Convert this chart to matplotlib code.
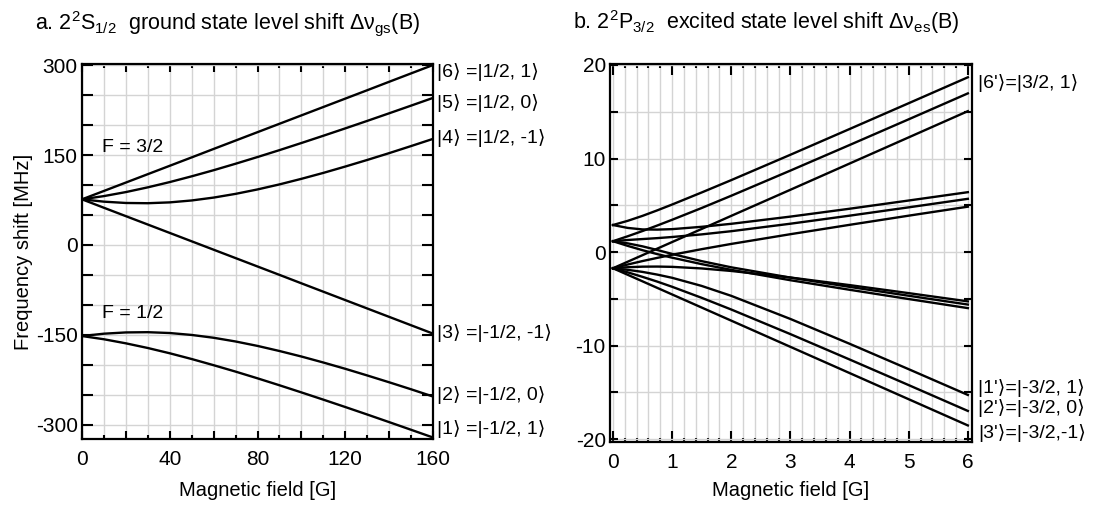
import matplotlib
matplotlib.use("Agg")
import matplotlib.pyplot as plt
from matplotlib.ticker import MultipleLocator, FuncFormatter
from matplotlib.transforms import blended_transform_factory

plt.rcParams['font.family'] = ['Liberation Sans', 'DejaVu Sans']
plt.rcParams['mathtext.fontset'] = 'custom'
plt.rcParams['mathtext.rm'] = 'Liberation Sans'
plt.rcParams['mathtext.it'] = 'Liberation Sans:italic'

# a. ground state 2S1/2, shift [MHz] vs field [G]
b_gs = [0, 10, 20, 30, 40, 50, 60, 70, 80, 90, 100, 110, 120, 130, 140, 150, 160]
gs_6 = [76.1, 90.1, 104.1, 118.1, 132.1, 146.1, 160.2, 174.2, 188.2, 202.2, 216.2, 230.2, 244.2, 258.2, 272.3, 286.3, 300.3]
gs_5 = [76.1, 81.5, 88.2, 96.1, 104.9, 114.5, 124.7, 135.5, 146.7, 158.2, 170.1, 182.2, 194.5, 207.0, 219.7, 232.5, 245.4]
gs_4 = [76.1, 72.2, 70.0, 69.6, 71.0, 74.2, 79.0, 85.2, 92.6, 101.0, 110.3, 120.2, 130.8, 141.8, 153.2, 165.0, 177.0]
gs_3 = [76.1, 62.0, 48.0, 34.0, 20.0, 6.0, -8.0, -22.0, -36.0, -50.0, -64.1, -78.1, -92.1, -106.1, -120.1, -134.1, -148.1]
gs_2 = [-152.1, -148.2, -146.1, -145.7, -147.1, -150.3, -155.0, -161.2, -168.6, -177.1, -186.3, -196.3, -206.8, -217.9, -229.3, -241.0, -253.1]
gs_1 = [-152.1, -157.5, -164.3, -172.1, -180.9, -190.5, -200.8, -211.5, -222.7, -234.3, -246.2, -258.3, -270.6, -283.1, -295.8, -308.6, -321.5]
gs_labels = ["|6⟩ =|1/2, 1⟩", "|5⟩ =|1/2, 0⟩", "|4⟩ =|1/2, -1⟩",
             "|3⟩ =|-1/2, -1⟩", "|2⟩ =|-1/2, 0⟩", "|1⟩ =|-1/2, 1⟩"]
gs_label_y = [288, 237, 178, -147, -250, -308]

# b. excited state 2P3/2, shift [MHz] vs field [G]
b_es = [0, 0.25, 0.5, 0.75, 1, 1.5, 2, 3, 4, 5, 6]
es_p52 = [-1.73, -1.03, -0.33, 0.37, 1.07, 2.47, 3.87, 6.66, 9.46, 12.26, 15.06]
es_p32_hi = [1.16, 1.69, 2.25, 2.84, 3.45, 4.71, 6.02, 8.71, 11.44, 14.19, 16.96]
es_p32_lo = [-1.73, -1.33, -0.96, -0.62, -0.29, 0.31, 0.87, 1.91, 2.91, 3.89, 4.85]
es_p12_hi = [2.89, 3.34, 3.87, 4.46, 5.08, 6.37, 7.69, 10.40, 13.15, 15.91, 18.68]
es_p12_mid = [1.16, 1.29, 1.39, 1.49, 1.61, 1.89, 2.23, 3.03, 3.89, 4.78, 5.69]
es_p12_lo = [-1.73, -1.62, -1.56, -1.55, -1.58, -1.75, -2.02, -2.72, -3.53, -4.39, -5.27]
es_m12_hi = [2.89, 2.58, 2.42, 2.40, 2.45, 2.70, 3.02, 3.79, 4.63, 5.51, 6.40]
es_m12_mid = [1.16, 0.93, 0.61, 0.22, -0.20, -0.97, -1.63, -2.73, -3.72, -4.67, -5.61]
es_m12_lo = [-1.73, -1.90, -2.12, -2.41, -2.75, -3.62, -4.68, -7.15, -9.80, -12.52, -15.27]
es_m32_hi = [1.16, 0.66, 0.20, -0.22, -0.60, -1.29, -1.90, -3.01, -4.03, -5.02, -5.99]
es_m32_lo = [-1.73, -2.17, -2.65, -3.16, -3.71, -4.89, -6.14, -8.77, -11.48, -14.22, -16.98]
es_m52 = [-1.73, -2.43, -3.13, -3.83, -4.53, -5.93, -7.33, -10.13, -12.93, -15.73, -18.53]
es_labels = ["|6'⟩=|3/2, 1⟩", "|1'⟩=|-3/2, 1⟩", "|2'⟩=|-3/2, 0⟩", "|3'⟩=|-3/2,-1⟩"]
es_label_y = [18.1, -14.5, -16.7, -19.3]

W, H = 1104, 507
fig = plt.figure(figsize=(W / 100, H / 100), dpi=100)
axL = fig.add_axes([82 / W, 68 / H, 351 / W, 375 / H])
axR = fig.add_axes([610 / W, 65 / H, 362 / W, 378 / H])

fs = 14
fs_tick = 15
grid_c = '#d4d4d4'


def style(ax):
    for s in ax.spines.values():
        s.set_linewidth(1.6)
    ax.tick_params(which='both', direction='in', top=True, right=True,
                   width=1.5, labelsize=fs_tick)
    ax.tick_params(which='major', length=6)
    ax.tick_params(which='minor', length=3)
    ax.tick_params(axis='x', pad=8)
    ax.tick_params(axis='y', pad=3)
    ax.set_axisbelow(True)


# left panel
for y in [gs_6, gs_5, gs_4, gs_3, gs_2, gs_1]:
    axL.plot(b_gs, y, color='black', lw=1.7)
axL.set_xlim(0, 160)
axL.set_ylim(-324, 302)
axL.xaxis.set_major_locator(MultipleLocator(20))
axL.xaxis.set_minor_locator(MultipleLocator(10))
axL.yaxis.set_major_locator(MultipleLocator(50))
axL.xaxis.set_major_formatter(FuncFormatter(lambda v, p: f"{v:.0f}" if round(v) % 40 == 0 else ""))
axL.yaxis.set_major_formatter(FuncFormatter(lambda v, p: f"{v:.0f}" if round(v) % 150 == 0 else ""))
axL.grid(True, which='both', axis='x', color=grid_c, lw=1)
axL.grid(True, which='major', axis='y', color=grid_c, lw=1)
style(axL)
axL.tick_params(axis='y', which='major', length=8)
axL.text(9, 162, "F = 3/2", fontsize=fs, va='center')
axL.text(9, -115, "F = 1/2", fontsize=fs, va='center')
axL.set_xlabel("Magnetic field [G]", fontsize=14.5)
axL.xaxis.set_label_coords(0.5, -0.112)
axL.set_ylabel("Frequency shift [MHz]", fontsize=14.5)
axL.yaxis.set_label_coords(-0.14, 0.5)
trL = blended_transform_factory(axL.transAxes, axL.transData)
for lab, y in zip(gs_labels, gs_label_y):
    axL.text(1.011, y, lab, transform=trL, fontsize=fs, va='center')

# right panel
for y in [es_p52, es_p32_hi, es_p32_lo, es_p12_hi, es_p12_mid, es_p12_lo,
          es_m12_hi, es_m12_mid, es_m12_lo, es_m32_hi, es_m32_lo, es_m52]:
    axR.plot(b_es, y, color='black', lw=1.7)
axR.set_xlim(-0.05, 6.07)
axR.set_ylim(-20.3, 20.1)
axR.xaxis.set_major_locator(MultipleLocator(1))
axR.xaxis.set_minor_locator(MultipleLocator(0.2))
axR.yaxis.set_major_locator(MultipleLocator(5))
axR.yaxis.set_major_formatter(FuncFormatter(lambda v, p: f"{v:.0f}" if round(v) % 10 == 0 else ""))
axR.grid(True, which='both', axis='x', color=grid_c, lw=1)
axR.grid(True, which='major', axis='y', color=grid_c, lw=1)
style(axR)
axR.tick_params(axis='x', which='major', length=8)
axR.set_xlabel("Magnetic field [G]", fontsize=14.5)
axR.xaxis.set_label_coords(0.5, -0.103)
trR = blended_transform_factory(axR.transAxes, axR.transData)
for lab, y in zip(es_labels, es_label_y):
    axR.text(1.017, y, lab, transform=trR, fontsize=fs, va='center')

fig.text(35 / W, 1 - 29 / H,
         r"a. 2$^{2}$S$_{1/2}$  ground state level shift Δν$_{\mathrm{gs}}$(B)",
         fontsize=15.5, va='baseline')
fig.text(573 / W, 1 - 29 / H,
         r"b. 2$^{2}$P$_{3/2}$  excited state level shift Δν$_{\mathrm{es}}$(B)",
         fontsize=15.5, va='baseline')

fig.savefig("out.png", dpi=100)
